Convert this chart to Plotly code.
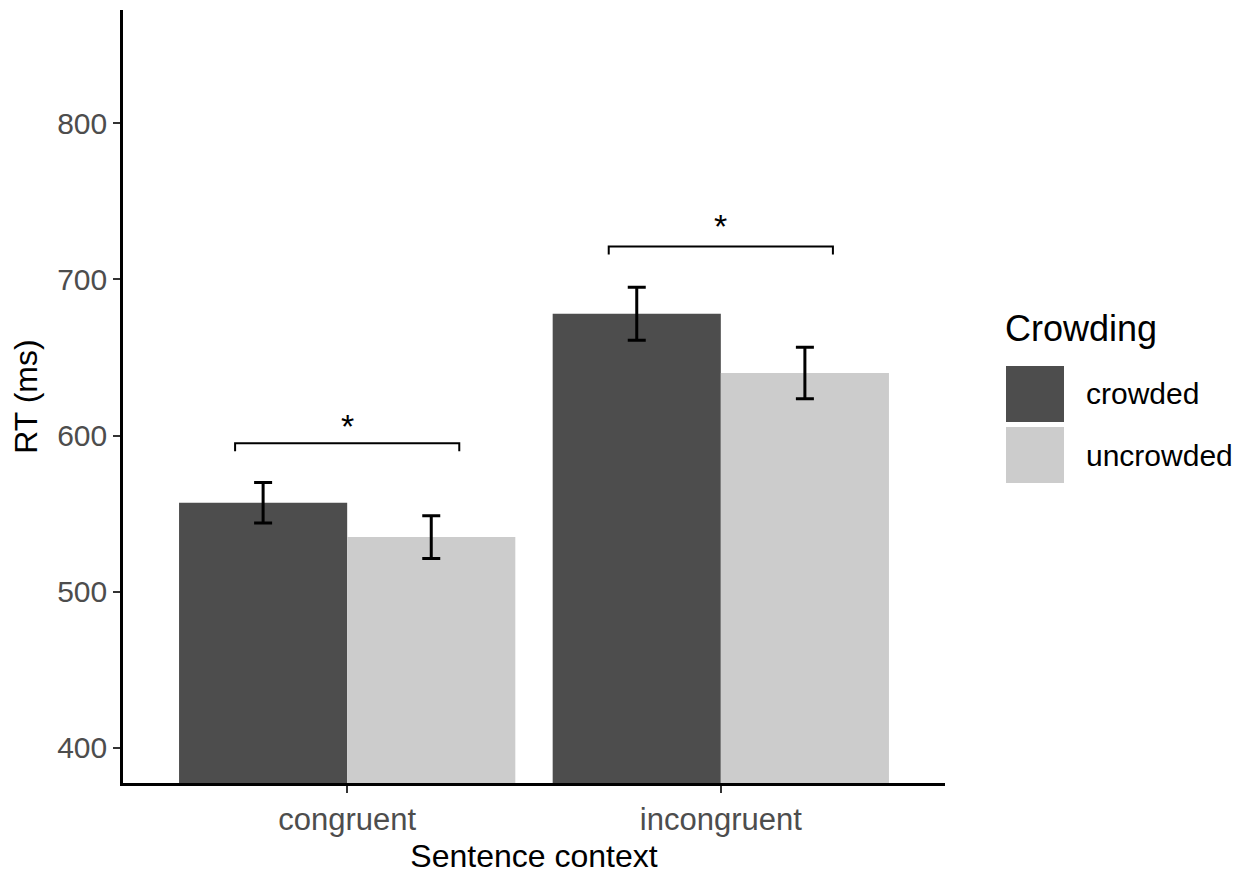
import plotly.graph_objects as go

# ---- data ----
contexts = ["congruent", "incongruent"]
groups = ["crowded", "uncrowded"]
rt_crowded = [557, 678]
rt_uncrowded = [535, 640]
se_crowded = [13, 17]
se_uncrowded = [13.7, 16.5]
y_ticks = [400, 500, 600, 700, 800]
bracket_y = [595, 721]
bracket_tip_y = [590, 716]
star_y = [606, 734]
star_text = ["*", "*"]

colors = {"crowded": "#4D4D4D", "uncrowded": "#CCCCCC"}
FONT = "Liberation Sans, Arial, sans-serif"

# page body has an 8px default margin; compensate so the plot lands where the reference has it
OFF = 8
W, H = 1250 - OFF, 874 - OFF
ML, MR, MT, MB = 123 - OFF, 305, 10 - OFF, 91
PW, PH = W - ML - MR, H - MT - MB


def px2paper_x(px):
    # px given in screenshot coordinates
    return (px - OFF - ML) / PW


def px2paper_y(py):
    return (H - MB - (py - OFF)) / PH


fig = go.Figure()
for name, vals, errs in [("crowded", rt_crowded, se_crowded),
                         ("uncrowded", rt_uncrowded, se_uncrowded)]:
    fig.add_trace(go.Bar(
        x=contexts, y=vals, name=name,
        marker=dict(color=colors[name], line=dict(width=0)),
        error_y=dict(type="data", array=errs, visible=True,
                     color="black", thickness=3, width=9),
        showlegend=False,
    ))

# significance brackets
half = 0.3
for i, (by, ty, sy, st) in enumerate(zip(bracket_y, bracket_tip_y, star_y, star_text)):
    xs = [i - half, i - half, i + half, i + half]
    ys = [ty, by, by, ty]
    path = "M {} {} L {} {} L {} {} L {} {}".format(xs[0], ys[0], xs[1], ys[1], xs[2], ys[2], xs[3], ys[3])
    fig.add_shape(type="path", path=path, xref="x", yref="y",
                  line=dict(color="black", width=2))
    fig.add_annotation(x=i, y=sy, xref="x", yref="y", text=st, showarrow=False,
                       font=dict(family=FONT, size=34, color="black"),
                       yanchor="middle")

# manual legend (large keys like ggplot)
fig.add_annotation(x=px2paper_x(1003), y=px2paper_y(328), xref="paper", yref="paper",
                   text="Crowding", showarrow=False, xanchor="left", yanchor="middle",
                   font=dict(family=FONT, size=36, color="black"))
key_tops = [366, 427]
for name, top in zip(groups, key_tops):
    fig.add_shape(type="rect", xref="paper", yref="paper",
                  x0=px2paper_x(1006), x1=px2paper_x(1064),
                  y0=px2paper_y(top + 56), y1=px2paper_y(top),
                  fillcolor=colors[name], line=dict(width=0))
    fig.add_annotation(x=px2paper_x(1084), y=px2paper_y(top + 28), xref="paper", yref="paper",
                       text=name, showarrow=False, xanchor="left", yanchor="middle",
                       font=dict(family=FONT, size=30, color="black"))

fig.update_layout(
    width=W, height=H,
    margin=dict(l=ML, r=MR, t=MT, b=MB, pad=0, autoexpand=False),
    paper_bgcolor="white", plot_bgcolor="white",
    barmode="group", bargap=0.1, bargroupgap=0,
    font=dict(family=FONT),
    showlegend=False,
)
fig.update_xaxes(
    type="category", range=[-0.6, 1.6],
    showline=True, linecolor="black", linewidth=2.5,
    ticks="outside", ticklen=7, tickwidth=2, tickcolor="#333333",
    tickfont=dict(family=FONT, size=31, color="#4D4D4D"),
    title=dict(text="Sentence context", font=dict(family=FONT, size=32, color="black"), standoff=11),
    showgrid=False, zeroline=False,
)
fig.update_yaxes(
    range=[377.5, 872.5], tickvals=y_ticks,
    showline=True, linecolor="black", linewidth=2.5,
    ticks="outside", ticklen=7, tickwidth=2, tickcolor="#333333",
    tickfont=dict(family=FONT, size=30, color="#4D4D4D"),
    title=dict(text="RT (ms)", font=dict(family=FONT, size=32, color="black"), standoff=10),
    showgrid=False, zeroline=False,
)

fig.write_html("out.html")
